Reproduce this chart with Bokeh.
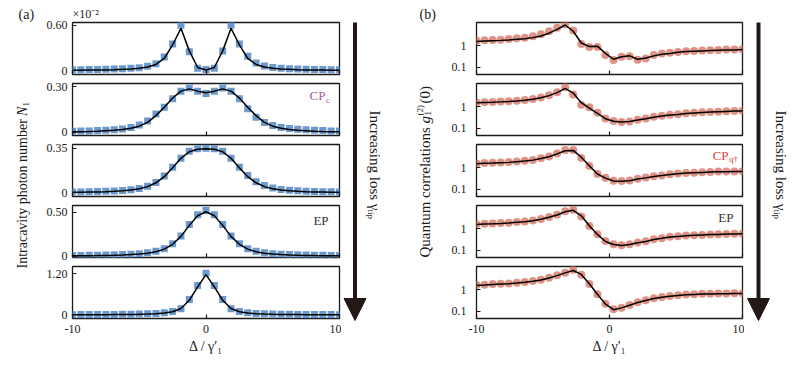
import math
from bokeh.plotting import figure
from bokeh.models import Range1d, FixedTicker, Label, Arrow, NormalHead
from bokeh.layouts import row, column
from bokeh.embed import file_html
from bokeh.resources import INLINE

FONT = "Liberation Serif"

# ---------------- data ----------------
DELTA_A = [-10.0, -9.375, -8.75, -8.125, -7.5, -6.875, -6.25, -5.625, -5.0, -4.375, -3.75,
           -3.125, -2.5, -1.875, -1.25, -0.625, 0.0, 0.625, 1.25, 1.875, 2.5, 3.125, 3.75,
           4.375, 5.0, 5.625, 6.25, 6.875, 7.5, 8.125, 8.75, 9.375, 10.0]

N1_DOTS_1 = [0.010, 0.011, 0.012, 0.014, 0.016, 0.019, 0.023, 0.029, 0.038, 0.055, 0.090, 0.180, 0.350,
             0.600, 0.250, 0.030, 0.012, 0.030, 0.260, 0.600, 0.350, 0.190, 0.100, 0.058, 0.040, 0.030,
             0.024, 0.019, 0.016, 0.014, 0.012, 0.011, 0.010]
N1_THEORY_1 = [0.003, 0.004, 0.005, 0.006, 0.008, 0.011, 0.015, 0.021, 0.031, 0.047, 0.080, 0.160, 0.340,
               0.560, 0.260, 0.040, 0.006, 0.040, 0.260, 0.560, 0.340, 0.160, 0.080, 0.047, 0.031, 0.021,
               0.015, 0.011, 0.008, 0.006, 0.005, 0.004, 0.003]
N1_DOTS_2 = [0.008, 0.009, 0.010, 0.012, 0.014, 0.018, 0.023, 0.032, 0.048, 0.075, 0.120, 0.165, 0.220,
             0.270, 0.290, 0.270, 0.255, 0.270, 0.290, 0.270, 0.220, 0.155, 0.100, 0.065, 0.045, 0.033,
             0.026, 0.021, 0.017, 0.014, 0.012, 0.010, 0.009]
N1_THEORY_2 = [0.004, 0.005, 0.006, 0.008, 0.011, 0.014, 0.019, 0.027, 0.041, 0.066, 0.110, 0.165, 0.225,
               0.270, 0.285, 0.270, 0.260, 0.270, 0.285, 0.270, 0.225, 0.165, 0.110, 0.066, 0.041, 0.027,
               0.019, 0.014, 0.011, 0.008, 0.006, 0.005, 0.004]
N1_DOTS_3 = [0.004, 0.005, 0.006, 0.008, 0.010, 0.013, 0.017, 0.023, 0.033, 0.050, 0.080, 0.130, 0.200,
             0.270, 0.325, 0.345, 0.350, 0.345, 0.325, 0.270, 0.200, 0.135, 0.085, 0.055, 0.036, 0.025,
             0.019, 0.014, 0.011, 0.009, 0.007, 0.006, 0.005]
N1_THEORY_3 = [0.002, 0.003, 0.004, 0.005, 0.007, 0.010, 0.014, 0.020, 0.030, 0.047, 0.077, 0.125, 0.195,
               0.270, 0.322, 0.342, 0.345, 0.342, 0.322, 0.270, 0.195, 0.125, 0.077, 0.047, 0.030, 0.020,
               0.014, 0.010, 0.007, 0.005, 0.004, 0.003, 0.002]
N1_DOTS_4 = [0.008, 0.009, 0.010, 0.011, 0.013, 0.015, 0.018, 0.023, 0.029, 0.038, 0.055, 0.085, 0.140,
             0.230, 0.360, 0.470, 0.520, 0.470, 0.360, 0.230, 0.140, 0.085, 0.055, 0.038, 0.029, 0.023,
             0.018, 0.015, 0.013, 0.011, 0.010, 0.009, 0.008]
N1_THEORY_4 = [0.004, 0.005, 0.006, 0.007, 0.009, 0.011, 0.014, 0.018, 0.024, 0.034, 0.050, 0.080, 0.135,
               0.225, 0.350, 0.460, 0.505, 0.460, 0.350, 0.225, 0.135, 0.080, 0.050, 0.034, 0.024, 0.018,
               0.014, 0.011, 0.009, 0.007, 0.006, 0.005, 0.004]
N1_DOTS_5 = [0.009, 0.010, 0.011, 0.012, 0.014, 0.016, 0.019, 0.023, 0.028, 0.035, 0.045, 0.065, 0.100,
             0.180, 0.450, 0.860, 1.220, 0.860, 0.450, 0.180, 0.100, 0.065, 0.045, 0.035, 0.028, 0.023,
             0.019, 0.016, 0.014, 0.012, 0.011, 0.010, 0.009]
N1_THEORY_5 = [0.004, 0.005, 0.006, 0.007, 0.008, 0.010, 0.012, 0.015, 0.019, 0.025, 0.035, 0.055, 0.095,
               0.190, 0.430, 0.820, 1.180, 0.820, 0.430, 0.190, 0.095, 0.055, 0.035, 0.025, 0.019, 0.015,
               0.012, 0.010, 0.008, 0.007, 0.006, 0.005, 0.004]

DELTA_B = [-10.0, -9.394, -8.788, -8.182, -7.576, -6.970, -6.364, -5.758, -5.152, -4.545, -3.939, -3.333,
           -2.727, -2.121, -1.515, -0.909, -0.303, 0.303, 0.909, 1.515, 2.121, 2.727, 3.333, 3.939, 4.545,
           5.152, 5.758, 6.364, 6.970, 7.576, 8.182, 8.788, 9.394, 10.0]

G2_DOTS_1 = [1.67, 1.73, 1.80, 1.86, 2.00, 2.15, 2.30, 2.70, 3.30, 4.60, 6.70, 9.60, 5.00, 1.16, 0.86, 0.86,
             0.36, 0.21, 0.30, 0.32, 0.22, 0.25, 0.36, 0.42, 0.46, 0.50, 0.54, 0.56, 0.58, 0.60, 0.62, 0.65,
             0.65, 0.67]
G2_THEORY_1 = [1.55, 1.61, 1.67, 1.73, 1.80, 1.93, 2.08, 2.32, 2.78, 3.73, 5.57, 8.96, 4.60, 1.30, 0.90, 0.93,
               0.43, 0.23, 0.30, 0.33, 0.23, 0.26, 0.33, 0.39, 0.43, 0.48, 0.52, 0.54, 0.56, 0.58, 0.60, 0.62,
               0.62, 0.65]
G2_DOTS_2 = [1.55, 1.58, 1.62, 1.70, 1.74, 1.86, 2.00, 2.24, 2.63, 3.31, 4.57, 7.90, 3.63, 1.20, 0.93, 0.51,
             0.275, 0.21, 0.19, 0.20, 0.245, 0.275, 0.33, 0.37, 0.41, 0.44, 0.48, 0.51, 0.54, 0.555, 0.575,
             0.60, 0.62, 0.63]
G2_THEORY_2 = [1.50, 1.54, 1.58, 1.64, 1.70, 1.80, 1.95, 2.18, 2.55, 3.20, 4.40, 7.00, 4.20, 1.50, 0.85, 0.48,
               0.27, 0.205, 0.19, 0.20, 0.235, 0.27, 0.32, 0.36, 0.40, 0.43, 0.47, 0.50, 0.53, 0.55, 0.57,
               0.59, 0.61, 0.62]
G2_DOTS_3 = [1.55, 1.62, 1.66, 1.72, 1.78, 1.91, 2.04, 2.24, 2.69, 3.24, 4.47, 6.46, 6.46, 2.75, 1.17, 0.50,
             0.33, 0.24, 0.234, 0.25, 0.30, 0.34, 0.39, 0.43, 0.48, 0.52, 0.56, 0.575, 0.60, 0.62, 0.645,
             0.645, 0.66, 0.67]
G2_THEORY_3 = [1.50, 1.56, 1.61, 1.67, 1.73, 1.85, 1.98, 2.20, 2.60, 3.15, 4.30, 6.00, 6.20, 3.00, 1.20, 0.50,
               0.32, 0.235, 0.23, 0.245, 0.29, 0.33, 0.38, 0.42, 0.47, 0.51, 0.55, 0.57, 0.59, 0.61, 0.63,
               0.64, 0.65, 0.66]
G2_DOTS_4 = [1.58, 1.66, 1.70, 1.78, 1.86, 2.00, 2.14, 2.37, 2.75, 3.39, 4.37, 6.30, 7.50, 3.63, 1.32, 0.54,
             0.26, 0.186, 0.166, 0.186, 0.224, 0.257, 0.316, 0.355, 0.41, 0.44, 0.47, 0.49, 0.50, 0.525,
             0.54, 0.56, 0.57, 0.575]
G2_THEORY_4 = [1.52, 1.60, 1.65, 1.72, 1.80, 1.94, 2.08, 2.30, 2.68, 3.30, 4.25, 6.00, 7.00, 3.90, 1.35, 0.53,
               0.25, 0.18, 0.162, 0.18, 0.22, 0.25, 0.31, 0.35, 0.40, 0.43, 0.46, 0.48, 0.50, 0.52, 0.53,
               0.55, 0.56, 0.57]
G2_DOTS_5 = [1.60, 1.66, 1.78, 1.84, 1.91, 2.05, 2.21, 2.46, 2.84, 3.52, 4.53, 6.04, 8.35, 4.87, 1.78, 0.60,
             0.22, 0.12, 0.143, 0.19, 0.255, 0.316, 0.39, 0.45, 0.50, 0.54, 0.58, 0.60, 0.63, 0.63, 0.65,
             0.65, 0.67, 0.67]
G2_THEORY_5 = [1.55, 1.62, 1.72, 1.79, 1.86, 1.99, 2.15, 2.40, 2.78, 3.45, 4.40, 5.90, 7.60, 5.00, 1.85, 0.60,
               0.21, 0.115, 0.14, 0.185, 0.25, 0.31, 0.38, 0.44, 0.49, 0.53, 0.57, 0.59, 0.61, 0.62, 0.63,
               0.64, 0.65, 0.66]

N1_TICKS = [0.60, 0.30, 0.35, 0.50, 1.20]
N1_TICK_LABELS = ["0.60", "0.30", "0.35", "0.50", "1.20"]
G2_TICKS = [0.1, 1]
G2_TICK_LABELS = ["0.1", "1"]
X_TICKS = [-10, 0, 10]
X_TICK_LABELS = ["-10", "0", "10"]

N1_DOTS = [N1_DOTS_1, N1_DOTS_2, N1_DOTS_3, N1_DOTS_4, N1_DOTS_5]
N1_THEORY = [N1_THEORY_1, N1_THEORY_2, N1_THEORY_3, N1_THEORY_4, N1_THEORY_5]
G2_DOTS = [G2_DOTS_1, G2_DOTS_2, G2_DOTS_3, G2_DOTS_4, G2_DOTS_5]
G2_THEORY = [G2_THEORY_1, G2_THEORY_2, G2_THEORY_3, G2_THEORY_4, G2_THEORY_5]

# ---------------- layout / style ----------------
N1_RANGES = [(-0.053, 0.636), (-0.02, 0.32), (-0.031, 0.379), (-0.015, 0.576), (-0.104, 1.417)]
G2_RANGE = (0.045, 11.7)
SQ_COLOR = "#5d8fc9"
DOT_COLOR = "#da7f6f"
INK = "#1a1a1a"
ARROW_INK = "#231815"
H_TOTAL = 355
BORDER_TOP = [22, 3, 3, 3, 3]
BORDER_BOTTOM = [6, 6, 6, 6, 37]


def style_panel(p):
    p.grid.visible = False
    p.outline_line_color = INK
    p.outline_line_width = 1.3
    p.background_fill_color = "white"
    p.border_fill_color = "white"
    for ax in p.axis:
        ax.axis_line_color = None
        ax.major_tick_in = 4
        ax.major_tick_out = 0
        ax.major_tick_line_color = INK
        ax.major_tick_line_width = 1.2
        ax.minor_tick_line_color = None
        ax.major_label_text_font = FONT
        ax.major_label_text_font_size = "12px"
        ax.major_label_text_color = INK


def bottom_axis(p, k):
    p.xaxis.ticker = FixedTicker(ticks=X_TICKS)
    if k == 4:
        p.xaxis.major_label_overrides = dict(zip(X_TICKS, X_TICK_LABELS))
        p.xaxis.major_label_standoff = 6
        p.xaxis.axis_label = "\u0394 / \u03b3\u2032\u2081"
        p.xaxis.axis_label_text_font = FONT
        p.xaxis.axis_label_text_font_size = "14px"
        p.xaxis.axis_label_text_font_style = "normal"
        p.xaxis.axis_label_text_color = INK
        p.xaxis.axis_label_standoff = 3
    else:
        p.xaxis.major_label_text_font_size = "1px"
        p.xaxis.major_label_text_color = None
        p.xaxis.major_label_standoff = 0


def lbl(p, x, y, text, size, color=INK, align="left", style="normal", angle=0.0):
    p.add_layout(Label(x=x, y=y, text=text, text_font=FONT, text_font_size=size,
                       text_color=color, text_align=align, text_baseline="middle",
                       text_font_style=style, angle=angle))


left_figs = []
for k in range(5):
    lo, hi = N1_RANGES[k]
    p = figure(frame_width=267, frame_height=52, x_range=Range1d(-10, 10), y_range=Range1d(lo, hi),
               output_backend="svg", toolbar_location=None,
               min_border_left=30, min_border_right=2,
               min_border_top=BORDER_TOP[k], min_border_bottom=BORDER_BOTTOM[k])
    p.scatter(DELTA_A, N1_DOTS[k], marker="square", size=7, fill_color=SQ_COLOR, fill_alpha=0.9,
              line_color=None)
    p.line(DELTA_A, N1_THEORY[k], line_color="black", line_width=1.5)
    style_panel(p)
    p.yaxis.ticker = FixedTicker(ticks=[0, N1_TICKS[k]])
    p.yaxis.major_label_overrides = {0: "0", N1_TICKS[k]: N1_TICK_LABELS[k]}
    p.yaxis.major_label_standoff = 5
    bottom_axis(p, k)
    left_figs.append(p)

# exponent note above the first panel, as the figure's title
t = left_figs[0].title
t.text = "\u00d710\u207b\u00b2"
t.text_font = FONT
t.text_font_size = "12px"
t.text_font_style = "normal"
t.text_color = INK
t.align = "left"
t.offset = 0
t.standoff = 3

lbl(left_figs[1], 8.95, 0.24, "CP", "13px", color="#a05aa8", align="right")
lbl(left_figs[1], 8.98, 0.212, "c", "9px", color="#a05aa8")
lbl(left_figs[3], 9.18, 0.405, "EP", "13px", color="#333333", align="right")

right_figs = []
for k in range(5):
    p = figure(frame_width=266, frame_height=52, x_range=Range1d(-10, 10),
               y_range=Range1d(*G2_RANGE), y_axis_type="log",
               output_backend="svg", toolbar_location=None,
               min_border_left=40, min_border_right=2,
               min_border_top=BORDER_TOP[k], min_border_bottom=BORDER_BOTTOM[k])
    p.scatter(DELTA_B, G2_DOTS[k], marker="circle", size=8, fill_color=DOT_COLOR, fill_alpha=0.85,
              line_color=None)
    p.line(DELTA_B, G2_THEORY[k], line_color="black", line_width=1.5)
    style_panel(p)
    p.yaxis.ticker = FixedTicker(ticks=G2_TICKS)
    p.yaxis.major_label_overrides = dict(zip(G2_TICKS, G2_TICK_LABELS))
    p.yaxis.major_label_standoff = 10
    bottom_axis(p, k)
    right_figs.append(p)

lbl(right_figs[2], 8.95, 3.6, "CP", "13px", color="#e5403a", align="right")
lbl(right_figs[2], 8.98, 2.4, "q\u2020", "9px", color="#e5403a")
lbl(right_figs[3], 9.32, 3.2, "EP", "13px", color="#333333", align="right")


def side_fig(w):
    p = figure(frame_width=w, frame_height=H_TOTAL, x_range=Range1d(0, w), y_range=Range1d(0, H_TOTAL),
               x_axis_location=None, y_axis_location=None, output_backend="svg",
               toolbar_location=None, min_border=0)
    p.grid.visible = False
    p.outline_line_color = None
    p.background_fill_color = "white"
    p.border_fill_color = "white"
    return p


UP = math.pi / 2
DOWN = -math.pi / 2

# left y label + (a)
figA = side_fig(42)
lbl(figA, 18, 341, "(a)", "14px")
lbl(figA, 22, 87, "Intracavity photon number", "14px", angle=UP)
lbl(figA, 22, 239.5, "N", "14px", style="italic", angle=UP)
lbl(figA, 25.5, 249, "1", "9px", angle=UP)


def arrow_fig(w, ax, tx):
    p = side_fig(w)
    p.add_layout(Arrow(end=NormalHead(size=22, fill_color=ARROW_INK, line_color=ARROW_INK),
                       x_start=ax, y_start=333, x_end=ax, y_end=35,
                       line_width=4, line_color=ARROW_INK))
    lbl(p, tx, 245, "Increasing loss \u03b3", "15px", angle=DOWN)
    lbl(p, tx - 3.5, 146, "tip", "9px", angle=DOWN)
    return p


figArrL = arrow_fig(59, 13.5, 33)

# right y label + (b)
figB = side_fig(36)
lbl(figB, 19, 341, "(b)", "14px")
lbl(figB, 24, 98, "Quantum correlations", "15px", angle=UP)
lbl(figB, 24, 232, "g", "15px", style="italic", angle=UP)
lbl(figB, 27.5, 240, "1", "9px", angle=UP)
lbl(figB, 19.5, 240, "(2)", "9px", angle=UP)
lbl(figB, 24, 252, "(0)", "15px", angle=UP)

figArrR = arrow_fig(46, 14, 36)

layout = row(figA, column(*left_figs, spacing=0), figArrL, figB, column(*right_figs, spacing=0), figArrR,
             spacing=0)

open("out.html", "w").write(file_html(layout, INLINE, title="chart"))
